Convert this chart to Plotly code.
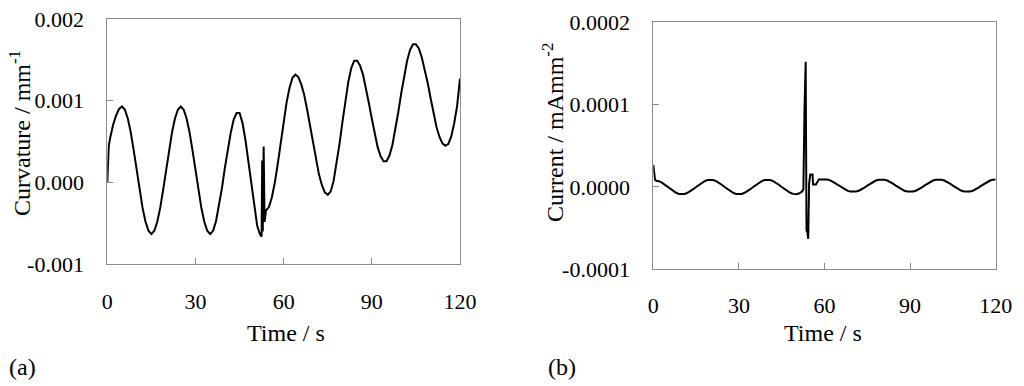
import plotly.graph_objects as go

# ---------------- data ----------------
time_a = [0, 0.5, 1, 2, 3, 4, 5, 6, 7, 8, 9, 10, 11, 12, 13, 14, 15, 16, 17, 18, 19, 20,
          21, 22, 23, 24, 25, 26, 27, 28, 29, 30, 31, 32, 33, 34, 35, 36, 37, 38, 39, 40,
          41, 42, 43, 44, 45, 46, 47, 48, 49, 50, 51, 52, 52.5, 52.7, 52.9, 53.2, 53.5, 54,
          55, 56, 57, 58, 59, 60, 61, 62, 63, 64, 65, 66, 67, 68, 69, 70, 71, 72, 73, 74, 75,
          76, 77, 78, 79, 80, 81, 82, 83, 84, 85, 86, 87, 88, 89, 90, 91, 92, 93, 94, 95,
          96, 97, 98, 99, 100, 101, 102, 103, 104, 105, 106, 107, 108, 109, 110, 111, 112,
          113, 114, 115, 116, 117, 118, 119, 120]
curvature = [0.00000, 0.00045, 0.00055, 0.00071, 0.00082, 0.00090, 0.00093, 0.00089, 0.00078,
             0.00061, 0.00039, 0.00015, -0.00009, -0.00031, -0.00048, -0.00059, -0.00063,
             -0.00059, -0.00048, -0.00031, -0.00009, 0.00015, 0.00039, 0.00061, 0.00078,
             0.00089, 0.00093, 0.00089, 0.00078, 0.00061, 0.00039, 0.00015, -0.00009,
             -0.00031, -0.00048, -0.00059, -0.00063, -0.00059, -0.00047, -0.00029, -0.00007,
             0.00018, 0.00041, 0.00061, 0.00077, 0.00085, 0.00085, 0.00073, 0.00052, 0.00025,
             -0.00005, -0.00032, -0.00053, -0.00064, -0.00066, 0.00027, -0.00060, 0.00044,
             -0.00048, -0.00034, -0.00030, -0.00018, 0.00000, 0.00023, 0.00049, 0.00075,
             0.00098, 0.00116, 0.00128, 0.00132, 0.00129, 0.00120, 0.00107, 0.00089, 0.00069,
             0.00048, 0.00028, 0.00010, -0.00003, -0.00012, -0.00015, -0.00011, 0.00002,
             0.00022, 0.00047, 0.00074, 0.00100, 0.00123, 0.00140, 0.00149, 0.00149, 0.00143,
             0.00132, 0.00116, 0.00097, 0.00078, 0.00059, 0.00043, 0.00032, 0.00026, 0.00026,
             0.00033, 0.00046, 0.00065, 0.00086, 0.00109, 0.00130, 0.00149, 0.00162, 0.00169,
             0.00169, 0.00164, 0.00153, 0.00139, 0.00122, 0.00103, 0.00085, 0.00068, 0.00056,
             0.00048, 0.00045, 0.00047, 0.00056, 0.00072, 0.00093, 0.00127]

time_b = [0, 0.3, 0.6, 1, 2, 3, 4, 5, 6, 7, 8, 9, 10, 11, 12, 13, 14, 15, 16, 17, 18, 19, 20,
          21, 22, 23, 24, 25, 26, 27, 28, 29, 30, 31, 32, 33, 34, 35, 36, 37, 38, 39, 40,
          41, 42, 43, 44, 45, 46, 47, 48, 49, 50, 51, 52, 52.6, 52.8, 53.0, 53.4, 53.7, 54.0,
          54.3, 54.6, 55.0, 55.8, 56.0, 57.0, 57.7, 58, 59, 60, 61, 62, 63, 64, 65, 66, 67,
          68, 69, 70, 71, 72, 73, 74, 75, 76, 77, 78, 79, 80, 81, 82, 83, 84, 85, 86, 87, 88,
          89, 90, 91, 92, 93, 94, 95, 96, 97, 98, 99, 100, 101, 102, 103, 104, 105, 106, 107,
          108, 109, 110, 111, 112, 113, 114, 115, 116, 117, 118, 119, 120]
current = [0.0000270, 0.0000200, 0.0000090, 0.0000075, 0.0000070, 0.0000052, 0.0000027, 0.0,
           -0.0000027, -0.0000052, -0.0000071, -0.0000084, -0.0000088, -0.0000084, -0.0000071,
           -0.0000052, -0.0000027, 0.0, 0.0000027, 0.0000052, 0.0000071, 0.0000084, 0.0000088,
           0.0000084, 0.0000071, 0.0000052, 0.0000027, 0.0, -0.0000027, -0.0000052, -0.0000071,
           -0.0000084, -0.0000088, -0.0000084, -0.0000071, -0.0000052, -0.0000027, 0.0,
           0.0000027, 0.0000052, 0.0000071, 0.0000084, 0.0000088, 0.0000084, 0.0000071,
           0.0000052, 0.0000027, 0.0, -0.0000027, -0.0000052, -0.0000071, -0.0000084,
           -0.0000088, -0.0000080, -0.0000060, -0.0000030, 0.0000780, 0.0000970, 0.0001520,
           -0.0000530, -0.0000550, -0.0000630, 0.0000040, 0.0000150, 0.0000150, 0.0000030,
           0.0000030, 0.0000084, 0.0000090, 0.0000092, 0.0000092, 0.0000090, 0.0000080,
           0.0000063, 0.0000042, 0.0000018, -0.0000006, -0.0000028, -0.0000045, -0.0000056,
           -0.0000060, -0.0000056, -0.0000046, -0.0000029, -0.0000008, 0.0000016, 0.0000040,
           0.0000061, 0.0000078, 0.0000088, 0.0000092, 0.0000088, 0.0000078, 0.0000061,
           0.0000040, 0.0000016, -0.0000008, -0.0000029, -0.0000046, -0.0000056, -0.0000060,
           -0.0000056, -0.0000046, -0.0000029, -0.0000008, 0.0000016, 0.0000040, 0.0000061,
           0.0000078, 0.0000088, 0.0000092, 0.0000088, 0.0000078, 0.0000061, 0.0000040,
           0.0000016, -0.0000008, -0.0000029, -0.0000046, -0.0000056, -0.0000060, -0.0000056,
           -0.0000046, -0.0000029, -0.0000008, 0.0000016, 0.0000040, 0.0000061, 0.0000078,
           0.0000088, 0.0000090]

x_ticks = [0, 30, 60, 90, 120]
x_tick_labels = ["0", "30", "60", "90", "120"]
ya_ticks = [-0.001, 0.0, 0.001, 0.002]
ya_tick_labels = ["-0.001", "0.000", "0.001", "0.002"]
yb_ticks = [-0.0001, 0.0, 0.0001, 0.0002]
yb_tick_labels = ["-0.0001", "0.0000", "0.0001", "0.0002"]

# ---------------- layout helpers ----------------
W, H = 1024, 386
FONT = "Liberation Serif, Times New Roman, serif"
GREY = "#8c8c8c"


def px_x(x):
    return x / W


def px_y(y):
    return 1 - y / H


fig = go.Figure()
fig.add_trace(go.Scatter(x=time_a, y=curvature, mode="lines",
                         line=dict(color="black", width=2), xaxis="x", yaxis="y",
                         showlegend=False))
fig.add_trace(go.Scatter(x=time_b, y=current, mode="lines",
                         line=dict(color="black", width=2), xaxis="x2", yaxis="y2",
                         showlegend=False))

axis_common = dict(showgrid=False, zeroline=False, showline=True, mirror=True,
                   linecolor=GREY, linewidth=1, ticks="inside", ticklen=6,
                   tickcolor=GREY, tickwidth=1, tickmode="array",
                   tickfont=dict(family=FONT, size=22, color="black"),
                   automargin=False)

fig.update_layout(
    width=W, height=H,
    margin=dict(l=0, r=0, t=0, b=0),
    paper_bgcolor="white", plot_bgcolor="white",
    xaxis=dict(domain=[px_x(107.3), px_x(460)], range=[0, 120], anchor="y",
               tickvals=x_ticks, ticktext=x_tick_labels, ticklabelstandoff=17, **axis_common),
    yaxis=dict(domain=[px_y(264.3), px_y(19)], range=[-0.001, 0.002], anchor="x",
               tickvals=ya_ticks, ticktext=ya_tick_labels, ticklabelstandoff=18, **axis_common),
    xaxis2=dict(domain=[px_x(653.3), px_x(995.7)], range=[0, 120], anchor="y2",
                tickvals=x_ticks, ticktext=x_tick_labels, ticklabelstandoff=16, **axis_common),
    yaxis2=dict(domain=[px_y(269.3), px_y(22.3)], range=[-0.0001, 0.0002], anchor="x2",
                tickvals=yb_ticks, ticktext=yb_tick_labels, ticklabelstandoff=18, **axis_common),
)

ann_font = dict(family=FONT, size=24, color="black")
annotations = [
    dict(text="Time / s", x=px_x(286), y=px_y(333), xanchor="center", yanchor="middle"),
    dict(text="Time / s", x=px_x(823), y=px_y(333), xanchor="center", yanchor="middle"),
    dict(text="Curvature / mm<sup>-1</sup>", x=px_x(20), y=px_y(133), textangle=-90,
         xanchor="center", yanchor="middle"),
    dict(text="Current / mAmm<sup>-2</sup>", x=px_x(553), y=px_y(133), textangle=-90,
         xanchor="center", yanchor="middle"),
    dict(text="(a)", x=px_x(7), y=px_y(367), xanchor="left", yanchor="middle"),
    dict(text="(b)", x=px_x(546), y=px_y(367), xanchor="left", yanchor="middle"),
]
for a in annotations:
    fig.add_annotation(xref="paper", yref="paper", showarrow=False, font=ann_font, **a)

fig.write_html("out.html", config={"displayModeBar": False},
               post_script="document.body.style.margin='0';")
